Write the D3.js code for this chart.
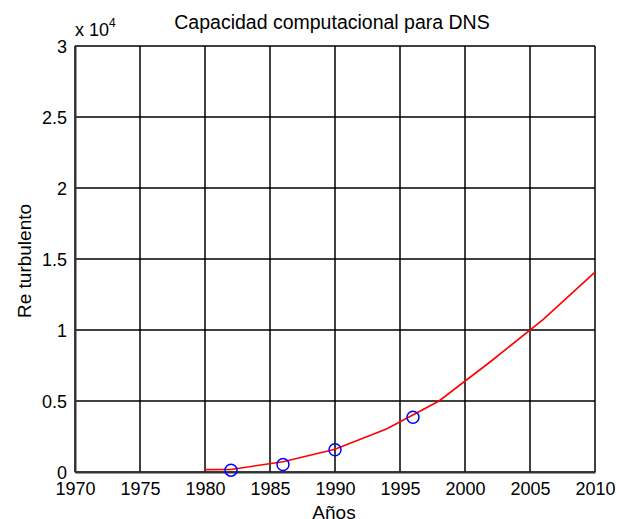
<!DOCTYPE html>
<html>
<head>
<meta charset="utf-8">
<script src="https://cdn.jsdelivr.net/npm/d3@7"></script>
<style>
body { margin: 0; background: #fff; }
text { font-family: "Liberation Sans", Arial, sans-serif; }
</style>
</head>
<body>
<script>
// curve data (units of 1e4)
const curveYears = [1980, 1982, 1986, 1990, 1994, 1998, 2002, 2006, 2010];
const curveValues = [0.017, 0.018, 0.072, 0.16, 0.305, 0.50, 0.78, 1.073, 1.407];
// measured points
const pointYears = [1982, 1986, 1990, 1996];
const pointValues = [0.013, 0.053, 0.157, 0.386];
const xTicks = [1970, 1975, 1980, 1985, 1990, 1995, 2000, 2005, 2010];
const yTicks = [0, 0.5, 1, 1.5, 2, 2.5, 3];

var show_chart = () => {
  const W = 629, H = 519;
  const margin = {top: 46, right: 34, bottom: 47, left: 75},
    width = W - margin.left - margin.right,
    height = H - margin.top - margin.bottom;

  const svg0 = d3.select("body").append("svg").attr("width", W).attr("height", H);
  const svg = svg0.append("g").attr("transform", `translate(${margin.left},${margin.top})`);

  const x = d3.scaleLinear().domain([1970, 2010]).range([0, width]);
  const y = d3.scaleLinear().domain([0, 3]).range([height, 0]);

  // grid
  svg.append("g").selectAll("line").data(xTicks).join("line")
    .attr("x1", d => x(d)).attr("x2", d => x(d)).attr("y1", 0).attr("y2", height)
    .attr("stroke", "#000").attr("stroke-width", 1.5);
  svg.append("g").selectAll("line").data(yTicks).join("line")
    .attr("x1", 0).attr("x2", width).attr("y1", d => y(d)).attr("y2", d => y(d))
    .attr("stroke", "#000").attr("stroke-width", 1.5);

  // axes
  const xAxis = svg.append("g").attr("transform", `translate(0,${height})`)
    .call(d3.axisBottom(x).tickValues(xTicks).tickFormat(d3.format("d")).tickSize(0).tickPadding(10));
  const yAxis = svg.append("g")
    .call(d3.axisLeft(y).tickValues(yTicks).tickFormat(d => d).tickSize(0).tickPadding(8));
  [xAxis, yAxis].forEach(a => {
    a.select(".domain").attr("stroke", "#333").attr("stroke-width", 2);
    a.selectAll("text").attr("font-size", 18).attr("fill", "#000")
      .style("font-family", "'Liberation Sans', Arial, sans-serif");
  });
  xAxis.selectAll("text").attr("dy", "0.71em");
  yAxis.selectAll("text").attr("dy", "0.36em");

  // curve
  const line = d3.line().x((d, i) => x(curveYears[i])).y(d => y(d));
  svg.append("path").datum(curveValues)
    .attr("d", line).attr("fill", "none").attr("stroke", "#ff0000").attr("stroke-width", 1.6);

  // points
  svg.selectAll("circle.pt").data(pointValues).join("circle")
    .attr("class", "pt")
    .attr("cx", (d, i) => x(pointYears[i])).attr("cy", d => y(d)).attr("r", 6)
    .attr("fill", "none").attr("stroke", "#0000ff").attr("stroke-width", 1.5);

  // title & labels
  svg0.append("text").attr("x", 332).attr("y", 29)
    .attr("text-anchor", "middle").attr("font-size", 19.5).text("Capacidad computacional para DNS");
  svg0.append("text").attr("x", margin.left + width / 2 - 1).attr("y", 519)
    .attr("text-anchor", "middle").attr("font-size", 19).text("Años");
  svg0.append("text").attr("transform", `translate(31,${margin.top + height / 2 + 2}) rotate(-90)`)
    .attr("text-anchor", "middle").attr("font-size", 19).text("Re turbulento");
  const ex = svg0.append("text").attr("x", 75).attr("y", 36).attr("font-size", 18);
  ex.append("tspan").text("x 10");
  ex.append("tspan").attr("font-size", 12).attr("dy", -9).text("4");
};
show_chart();
</script>
</body>
</html>
